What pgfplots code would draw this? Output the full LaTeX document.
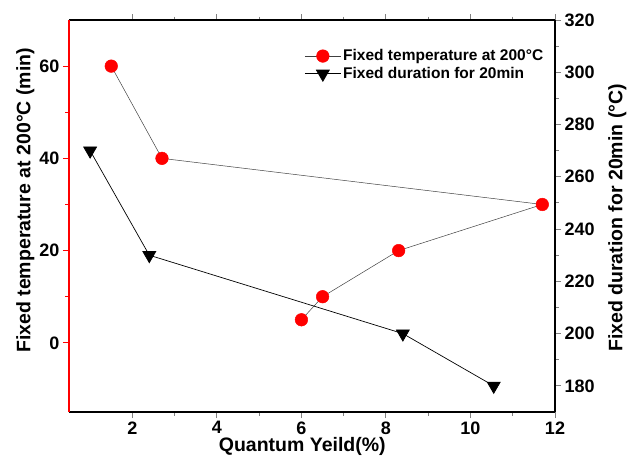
\documentclass[border=0pt]{standalone}
\usepackage{pgfplots}
\pgfplotsset{compat=1.18}
\usepackage{fontspec}
\setmainfont{Liberation Sans}
\begin{document}
\begin{tikzpicture}
\pgfplotsset{
 common/.style={
  scale only axis, width=486pt, height=392pt, at={(0,0)}, anchor=south west,
  xmin=0.5, xmax=12, tick align=outside,
  /pgf/number format/assume math mode=true,
  tick label style={font=\fontsize{18}{21}\selectfont\bfseries\boldmath},
  label style={font=\fontsize{19.5}{23}\selectfont\bfseries},
  major tick length=6pt, minor tick length=3.5pt,
  every tick/.append style={line width=1pt},
  axis line style={line width=1.3pt},
 }
}
\begin{axis}[common,
  axis x line*=box, axis y line*=left,
  xtick={2,4,...,12}, minor x tick num=1, xtick pos=both, xticklabel pos=lower,
  ymin=-15, ymax=70, ytick={0,20,40,60}, minor y tick num=1,
  y axis line style={red},
  ytick style={red, line width=1pt},
  xlabel={Quantum Yeild(\%)},
  ylabel={Fixed temperature at 200°C (min)},
  xlabel style={at={(axis description cs:0.48,-0.089)}, anchor=center},
  ylabel style={at={(axis description cs:-0.09,0.54)}, anchor=center},
]
\addplot[color=black!75, line width=0.5pt, mark=*, mark size=6.3pt,
  mark options={fill=red, draw=red}] coordinates {
  (1.5,60) (2.7,40) (11.7,30) (8.3,20) (6.5,10) (6.0,5)
};
\end{axis}
\begin{axis}[common,
  axis x line=none, axis y line*=right,
  ymin=170, ymax=320, ytick={180,200,...,320}, minor y tick num=1,
  ylabel={Fixed duration for 20min (°C)},
  ylabel style={at={(axis description cs:1.128,0.495)}, anchor=center},
  legend style={draw=none, fill=none, font=\fontsize{15.5}{18}\selectfont\bfseries,
    at={(0.478,0.935)}, anchor=north west, row sep=1pt},
  legend cell align=left,
  legend image code/.code={\draw[mark repeat=2,mark phase=2] plot coordinates {(0pt,0pt) (18pt,0pt) (36pt,0pt)};},
]
\addlegendimage{color=black!75, line width=0.5pt, mark=*, mark size=6.3pt,
  mark options={fill=red, draw=red}}
\addlegendentry{Fixed temperature at 200°C}
\addplot[color=black, line width=0.7pt, mark=triangle*, mark size=7.5pt,
  mark options={rotate=180, fill=black}] coordinates {
  (1.0,270) (2.4,230) (8.4,200) (10.55,180)
};
\addlegendentry{Fixed duration for 20min}
\end{axis}
\pgfresetboundingbox
\useasboundingbox (-69pt,-44pt) rectangle (558pt,412pt);
\end{tikzpicture}
\end{document}
